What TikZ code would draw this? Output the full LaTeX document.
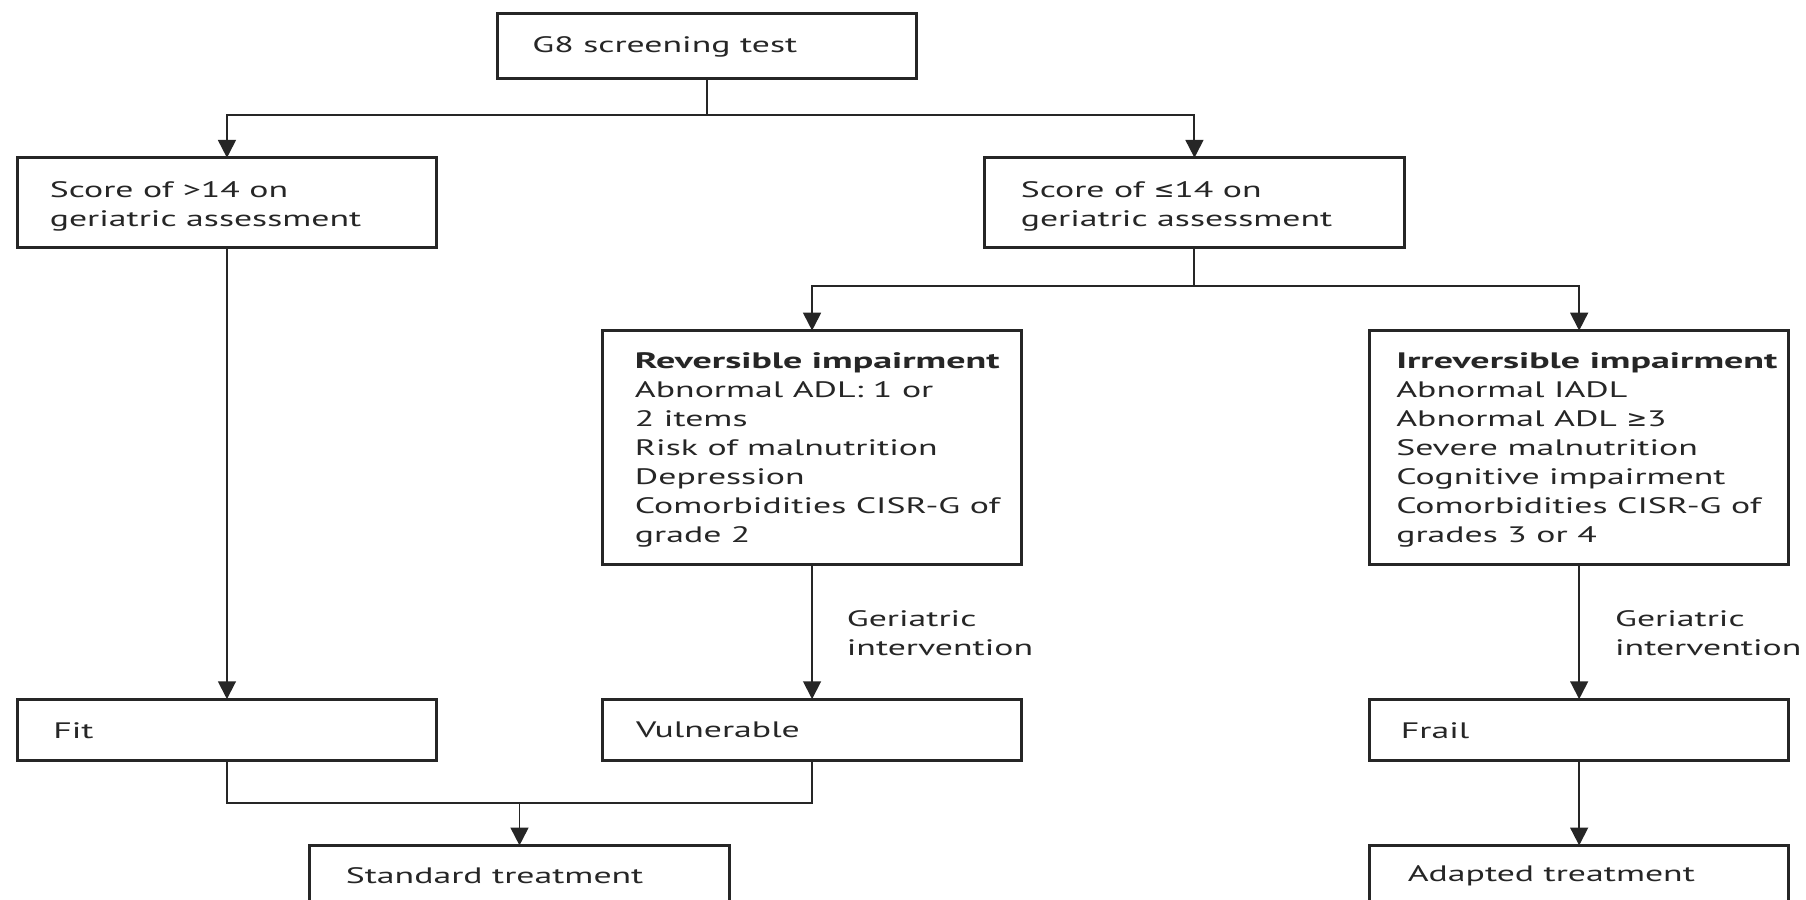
\documentclass[tikz,border=0pt]{standalone}
\usepackage{fontspec}
\setmainfont{PT Sans}[FakeStretch=1.6, BoldFeatures={FakeStretch=1.7}]
\newfontfamily\symfam{DejaVu Sans}[FakeStretch=1.1]
\usetikzlibrary{arrows.meta}
\begin{document}
\begin{tikzpicture}[x=0.025cm,y=-0.025cm,
  box/.style={draw=black!85, line width=1.8pt, minimum width=9.1cm, inner sep=0pt, outer sep=0pt, anchor=north west},
  lbl/.style={anchor=west, inner sep=0pt, align=left, text=black!85, font=\fontsize{13.8}{17.9}\selectfont},
  conn/.style={draw=black!85, line width=1.2pt},
  arr/.style={conn, -{Triangle[width=11pt,length=11pt]}}]
\useasboundingbox (0,0) rectangle (1568,781);
\clip (0,0) rectangle (1568,781);
\fill[white] (0,0) rectangle (1568,781);
% boxes
\node[box, minimum height=1.4cm] (g8) at (432,12) {};
\node[lbl] (g8t) at (462,41) {G8 screening test};
\node[box, minimum height=1.95cm] (s1) at (15,137) {};
\node[lbl] (s1t) at (43,179.5) {Score of >14 on\\geriatric assessment};
\node[box, minimum height=1.95cm] (s2) at (855,137) {};
\node[lbl] (s2t) at (886,179.5) {Score of {\symfam ≤}14 on\\geriatric assessment};
\node[box, minimum height=5.075cm] (rev) at (523,287) {};
\node[lbl] (revt) at (551,391) {\textbf{Reversible impairment}\\Abnormal ADL: 1 or\\2 items\\Risk of malnutrition\\Depression\\Comorbidities CISR-G of\\grade 2};
\node[box, minimum height=5.075cm] (irr) at (1189,287) {};
\node[lbl] (irrt) at (1212,391) {\textbf{Irreversible impairment}\\Abnormal IADL\\Abnormal ADL {\symfam ≥}3\\Severe malnutrition\\Cognitive impairment\\Comorbidities CISR-G of\\grades 3 or 4};
\node[box, minimum height=1.325cm] (fit) at (15,607) {};
\node[lbl] (fitt) at (46,634) {Fit};
\node[box, minimum height=1.325cm] (vul) at (523,607) {};
\node[lbl] (vult) at (552,634) {Vulnerable};
\node[box, minimum height=1.325cm] (frail) at (1189,607) {};
\node[lbl] (frailt) at (1216,634) {Frail};
\node[box, minimum height=2cm] (std) at (269,734) {};
\node[lbl] (stdt) at (300,760) {Standard treatment};
\node[box, minimum height=2cm] (adp) at (1189,734) {};
\node[lbl] (adpt) at (1222,760) {Adapted treatment};
% labels
\node[lbl] (gi1) at (735,550) {Geriatric\\intervention};
\node[lbl] (gi2) at (1402,550) {Geriatric\\intervention};
% connectors
\coordinate (j1) at (g8.south |- {(0,100)});
\coordinate (j2) at (s2.south |- {(0,248)});
\coordinate (j3) at (std.north |- {(0,697)});
\draw[conn] (g8.south) -- (j1);
\draw[arr] (j1) -| (s1.north);
\draw[arr] (j1) -| (s2.north);
\draw[conn] (s2.south) -- (j2);
\draw[arr] (j2) -| (rev.north);
\draw[arr] (j2) -| (irr.north);
\draw[arr] (s1.south) -- (fit.north);
\draw[arr] (rev.south) -- (vul.north);
\draw[arr] (irr.south) -- (frail.north);
\draw[conn] (fit.south) |- (j3) -| (vul.south);
\draw[arr] (j3) -- (std.north);
\draw[arr] (frail.south) -- (adp.north);
\end{tikzpicture}
\end{document}
